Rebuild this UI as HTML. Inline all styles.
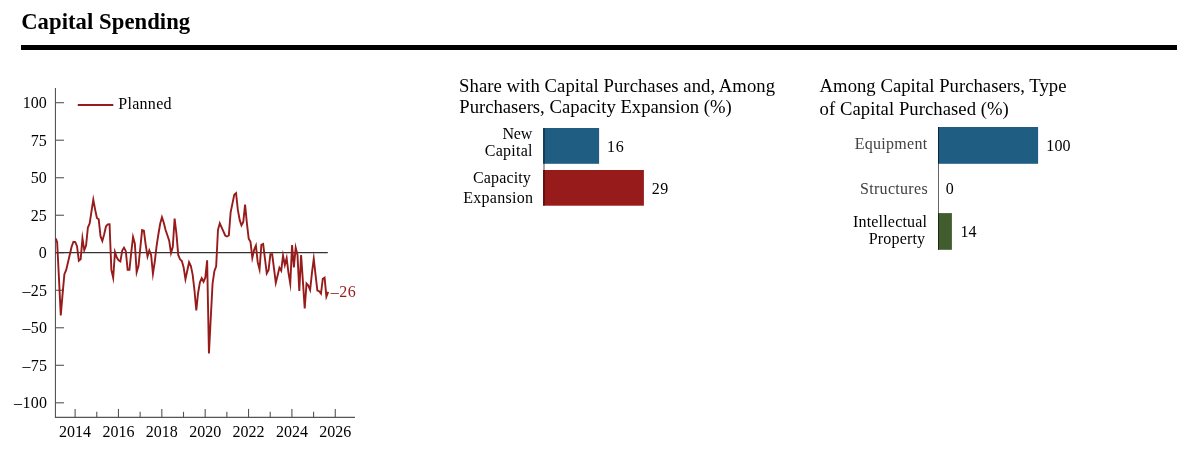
<!DOCTYPE html>
<html><head><meta charset="utf-8"><title>Capital Spending</title>
<style>
html,body{margin:0;padding:0;background:#fff;}
body{width:1204px;height:450px;overflow:hidden;position:relative;font-family:"Liberation Serif",serif;}
h1{position:absolute;left:21.2px;top:8.5px;margin:0;letter-spacing:0.06px;font-size:22.67px;line-height:26px;font-weight:bold;color:#000;white-space:nowrap;}
.rule{position:absolute;left:21px;top:45px;width:1156px;height:4.8px;background:#000;}
svg{position:absolute;left:0;top:0;}
svg text{font-family:"Liberation Serif",serif;fill:#000;}
.tk{font-size:16px;}
.tt{font-size:18.67px;}
.lb{font-size:16px;}
.g{fill:#414141;}
.ax{stroke:#555;stroke-width:1.1;}
</style></head><body>
<h1>Capital Spending</h1>
<div class="rule"></div>
<svg width="1204" height="450" viewBox="0 0 1204 450">
<line x1="55.45" y1="88" x2="55.45" y2="417.4" class="ax"/>
<line x1="54.95" y1="417.4" x2="355" y2="417.4" class="ax"/>
<line x1="55.45" y1="102.7" x2="63.95" y2="102.7" class="ax"/>
<text x="46.8" y="108.00" text-anchor="end" class="tk">100</text>
<line x1="55.45" y1="140.21" x2="63.95" y2="140.21" class="ax"/>
<text x="46.8" y="145.51" text-anchor="end" class="tk">75</text>
<line x1="55.45" y1="177.73" x2="63.95" y2="177.73" class="ax"/>
<text x="46.8" y="183.03" text-anchor="end" class="tk">50</text>
<line x1="55.45" y1="215.24" x2="63.95" y2="215.24" class="ax"/>
<text x="46.8" y="220.54" text-anchor="end" class="tk">25</text>
<line x1="55.45" y1="252.75" x2="63.95" y2="252.75" class="ax"/>
<text x="46.8" y="258.05" text-anchor="end" class="tk">0</text>
<line x1="55.45" y1="290.26" x2="63.95" y2="290.26" class="ax"/>
<text x="47.3" y="295.56" text-anchor="end" class="tk" style="letter-spacing:0.3px">–25</text>
<line x1="55.45" y1="327.77" x2="63.95" y2="327.77" class="ax"/>
<text x="47.3" y="333.07" text-anchor="end" class="tk" style="letter-spacing:0.3px">–50</text>
<line x1="55.45" y1="365.29" x2="63.95" y2="365.29" class="ax"/>
<text x="47.3" y="370.59" text-anchor="end" class="tk" style="letter-spacing:0.3px">–75</text>
<line x1="55.45" y1="402.8" x2="63.95" y2="402.8" class="ax"/>
<text x="47.3" y="408.10" text-anchor="end" class="tk" style="letter-spacing:0.3px">–100</text>
<line x1="75.10" y1="417.4" x2="75.10" y2="408.9" class="ax"/>
<text x="75.10" y="437.2" text-anchor="middle" class="tk">2014</text>
<line x1="96.78" y1="417.4" x2="96.78" y2="411.79999999999995" class="ax"/>
<line x1="118.46" y1="417.4" x2="118.46" y2="408.9" class="ax"/>
<text x="118.46" y="437.2" text-anchor="middle" class="tk">2016</text>
<line x1="140.14" y1="417.4" x2="140.14" y2="411.79999999999995" class="ax"/>
<line x1="161.82" y1="417.4" x2="161.82" y2="408.9" class="ax"/>
<text x="161.82" y="437.2" text-anchor="middle" class="tk">2018</text>
<line x1="183.50" y1="417.4" x2="183.50" y2="411.79999999999995" class="ax"/>
<line x1="205.18" y1="417.4" x2="205.18" y2="408.9" class="ax"/>
<text x="205.18" y="437.2" text-anchor="middle" class="tk">2020</text>
<line x1="226.86" y1="417.4" x2="226.86" y2="411.79999999999995" class="ax"/>
<line x1="248.54" y1="417.4" x2="248.54" y2="408.9" class="ax"/>
<text x="248.54" y="437.2" text-anchor="middle" class="tk">2022</text>
<line x1="270.22" y1="417.4" x2="270.22" y2="411.79999999999995" class="ax"/>
<line x1="291.90" y1="417.4" x2="291.90" y2="408.9" class="ax"/>
<text x="291.90" y="437.2" text-anchor="middle" class="tk">2024</text>
<line x1="313.58" y1="417.4" x2="313.58" y2="411.79999999999995" class="ax"/>
<line x1="335.26" y1="417.4" x2="335.26" y2="408.9" class="ax"/>
<text x="335.26" y="437.2" text-anchor="middle" class="tk">2026</text>
<line x1="55.45" y1="252.6" x2="327.8" y2="252.6" stroke="#333" stroke-width="1.2"/>
<polyline points="55.9,238.5 57.16,242.5 58.96,278.2 60.77,315.44 62.58,294.1 64.39,274.2 66.19,269.9 68.0,262.2 69.81,254.5 71.61,246.8 73.42,241.8 75.23,242.10000000000002 77.03,246.2 78.84,260.7 80.65,259.3 82.45,238.3 84.26,250.14 86.07,245.6 87.88,227.5 89.68,223.5 91.49,211.3 93.3,199.68 95.1,209.3 96.91,218.0 98.72,219.3 100.53,236.2 102.33,241.04 104.14,234.5 105.95,226.5 107.75,224.4 109.56,224.2 111.37,269.9 113.17,277.74 114.98,252.06 116.79,257.5 118.59,260.3 120.4,261.5 122.21,250.6 124.02,247.60000000000002 125.82,251.2 127.63,269.9 129.44,269.9 131.24,252.4 133.05,237.06 134.86,243.7 136.66,272.26 138.47,266.1 140.28,248.1 142.09,230.10000000000002 143.89,230.8 145.7,244.8 147.51,256.44 149.31,250.4 151.12,254.9 152.93,273.76 154.73,262.0 156.54,246.3 158.35,234.5 160.16,223.8 161.96,217.3 163.77,222.8 165.58,230.0 167.38,235.3 169.19,240.6 171.0,253.0 172.81,246.8 174.61,218.5 176.42,233.7 178.23,254.9 180.03,259.3 181.84,261.1 183.65,267.4 185.45,279.3 187.26,270.8 189.07,262.3 190.88,266.1 192.68,274.8 194.49,290.5 196.3,310.52 198.1,293.0 199.91,282.4 201.72,278.3 203.52,281.7 205.33,277.5 207.14,260.36 208.94,353.5 210.75,318.1 212.56,283.7 214.37,271.2 216.17,266.2 217.98,229.8 219.79,223.3 221.59,227.4 223.4,231.4 225.21,235.5 227.01,236.5 228.82,235.5 230.63,212.4 232.44,203.6 234.24,194.8 236.05,193.20000000000002 237.86,209.9 239.66,219.9 241.47,225.29999999999998 243.28,222.0 245.08,204.6 246.89,223.2 248.7,238.6 250.51,241.8 252.31,257.9 254.12,249.9 255.93,245.5 257.73,262.4 259.54,269.36 261.35,244.9 263.16,243.9 264.96,258.7 266.77,273.4 268.58,269.9 270.38,254.3 272.19,254.3 274.0,268.6 275.8,282.82 277.61,275.5 279.42,267.8 281.23,270.7 283.03,255.64 284.84,264.94 286.65,258.06 288.45,272.6 290.26,283.56 292.07,245.02 293.87,267.48 295.68,247.68 297.49,254.9 299.3,291.0 301.1,255.02 302.91,281.4 304.72,308.46 306.52,283.5 308.33,285.6 310.14,290.0 311.94,272.8 313.75,258.8 315.56,274.8 317.37,290.5 319.17,291.2 320.98,293.5 322.79,278.7 324.59,277.6 326.4,296.54 328.21,291.8" fill="none" stroke="#981b1b" stroke-width="1.9" stroke-linejoin="miter" stroke-miterlimit="10"/>
<line x1="77.8" y1="104.9" x2="113.3" y2="104.9" stroke="#981b1b" stroke-width="2"/>
<text id="L_Planned" x="118.25" y="108.8" class="tk" style="letter-spacing:0.292px">Planned</text>
<text id="L_m26" x="330.75" y="297.1" class="tk" style="fill:#981b1b;letter-spacing:0.500px">–26</text>
<text id="L_New" x="502.50" y="139.0" class="lb" style="letter-spacing:-0.250px">New</text>
<text id="L_Capital" x="484.75" y="156.0" class="lb" style="letter-spacing:0.250px">Capital</text>
<text id="L_Capacity" x="473.00" y="183.1" class="lb" style="letter-spacing:0.143px">Capacity</text>
<text id="L_Expansion" x="463.25" y="202.6" class="lb" style="letter-spacing:0.281px">Expansion</text>
<text id="L_v16" x="607.00" y="151.8" class="lb" style="letter-spacing:0.750px">16</text>
<text id="L_v29" x="651.75" y="193.8" class="lb" style="letter-spacing:0.500px">29</text>
<text id="L_Equipment" x="854.75" y="149.2" class="lb g" style="letter-spacing:0.281px">Equipment</text>
<text id="L_Structures" x="860.00" y="194.0" class="lb g" style="letter-spacing:0.306px">Structures</text>
<text id="L_Intellectual" x="853.00" y="227.4" class="lb" style="letter-spacing:0.182px">Intellectual</text>
<text id="L_Property" x="868.75" y="244.1" class="lb" style="letter-spacing:0.179px">Property</text>
<text id="L_v100" x="1046.25" y="151.3" class="lb" style="letter-spacing:0.125px">100</text>
<text id="L_v0" x="945.75" y="194.0" class="lb" style="letter-spacing:0.000px">0</text>
<text id="L_v14" x="960.50" y="237.0" class="lb" style="letter-spacing:0.000px">14</text>
<text x="459.1" y="92" class="tt" style="letter-spacing:0.05px">Share with Capital Purchases and, Among</text>
<text x="459.3" y="113" class="tt">Purchasers, Capacity Expansion (%)</text>
<rect x="543" y="128" width="56.1" height="35.8" fill="#205d82"/>
<rect x="543" y="170" width="100.9" height="35.7" fill="#981b1b"/>
<line x1="544" y1="128" x2="544" y2="205.7" stroke="#000" stroke-opacity="0.45" stroke-width="1.5"/>
<text x="819.6" y="92" class="tt" style="letter-spacing:0.03px">Among Capital Purchasers, Type</text>
<text x="819.6" y="114.5" class="tt" style="letter-spacing:0.05px">of Capital Purchased (%)</text>
<rect x="938" y="127" width="100.1" height="36.8" fill="#205d82"/>
<rect x="938" y="213.1" width="13.9" height="36.7" fill="#415c2d"/>
<line x1="938.5" y1="127" x2="938.5" y2="249.8" stroke="#000" stroke-opacity="0.6" stroke-width="1"/>
</svg>
</body></html>
